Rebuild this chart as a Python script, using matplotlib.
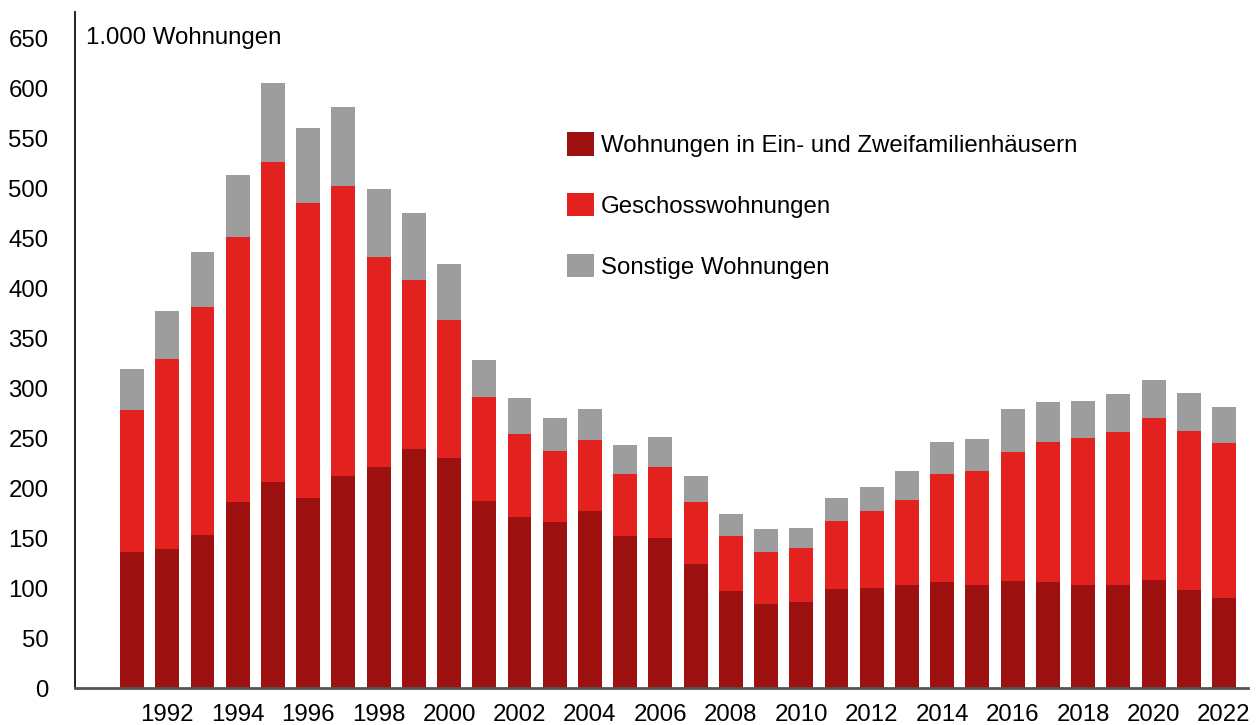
import matplotlib
matplotlib.use("Agg")
import matplotlib.pyplot as plt
from matplotlib.patches import Patch
import numpy as np

# Baufertigstellungen, in 1.000 Wohnungen
years = list(range(1991, 2023))
ein_zwei = [136, 139, 153, 186, 206, 190, 212, 221, 239, 230,
            187, 171, 166, 177, 152, 150, 124, 97, 84, 86,
            99, 100, 103, 106, 103, 107, 106, 103, 103, 108,
            98, 90]
# cumulative top of the red segment
top_geschoss = [278, 329, 381, 451, 526, 485, 502, 431, 408, 368,
                291, 254, 237, 248, 214, 221, 186, 152, 136, 140,
                167, 177, 188, 214, 217, 236, 246, 250, 256, 270,
                257, 245]
# cumulative top of whole bar
total = [319, 377, 436, 513, 605, 560, 581, 499, 475, 424,
         328, 290, 270, 279, 243, 251, 212, 174, 159, 160,
         190, 201, 217, 246, 249, 279, 286, 287, 294, 308,
         295, 281]

geschoss = [t - e for t, e in zip(top_geschoss, ein_zwei)]
sonstige = [t - g for t, g in zip(total, top_geschoss)]

labels = ["Wohnungen in Ein- und Zweifamilienhäusern",
          "Geschosswohnungen",
          "Sonstige Wohnungen"]
colors = ["#9e1111", "#e3221f", "#9d9d9d"]

plt.rcParams['font.family'] = ['Liberation Sans', 'DejaVu Sans']
FS = 17.3

fig = plt.figure(figsize=(12.58, 7.25), dpi=100)
ax = fig.add_axes([0.0596, 0.051, 0.9324, 0.9324])

x = np.array(years)
w = 0.68
ax.bar(x, ein_zwei, w, color=colors[0], linewidth=0)
ax.bar(x, geschoss, w, bottom=ein_zwei, color=colors[1], linewidth=0)
ax.bar(x, sonstige, w, bottom=top_geschoss, color=colors[2], linewidth=0)

ax.set_xlim(1989.38, 2022.68)
ax.set_ylim(0, 676)
ax.set_yticks(range(0, 651, 50))
ax.set_xticks(range(1992, 2023, 2))
ax.tick_params(axis='both', length=0, labelsize=FS)
ax.tick_params(axis='y', pad=19)
ax.tick_params(axis='x', pad=11.5)

for s in ['top', 'right']:
    ax.spines[s].set_visible(False)
ax.spines['left'].set_color('#111111')
ax.spines['left'].set_linewidth(1.3)
ax.spines['bottom'].set_color('#555555')
ax.spines['bottom'].set_linewidth(2)

ax.text(0.009, 0.962, "1.000 Wohnungen", transform=ax.transAxes,
        fontsize=FS, va='center', ha='left')

handles = [Patch(facecolor=c, edgecolor='none') for c in colors]
fig.legend(handles, labels, loc='upper left', bbox_to_anchor=(0.4434, 0.8305),
           frameon=False, fontsize=FS, handlelength=1.1, handleheight=1.1,
           handletextpad=0.3, labelspacing=1.5, borderaxespad=0)

fig.savefig("out.png", dpi=100)
